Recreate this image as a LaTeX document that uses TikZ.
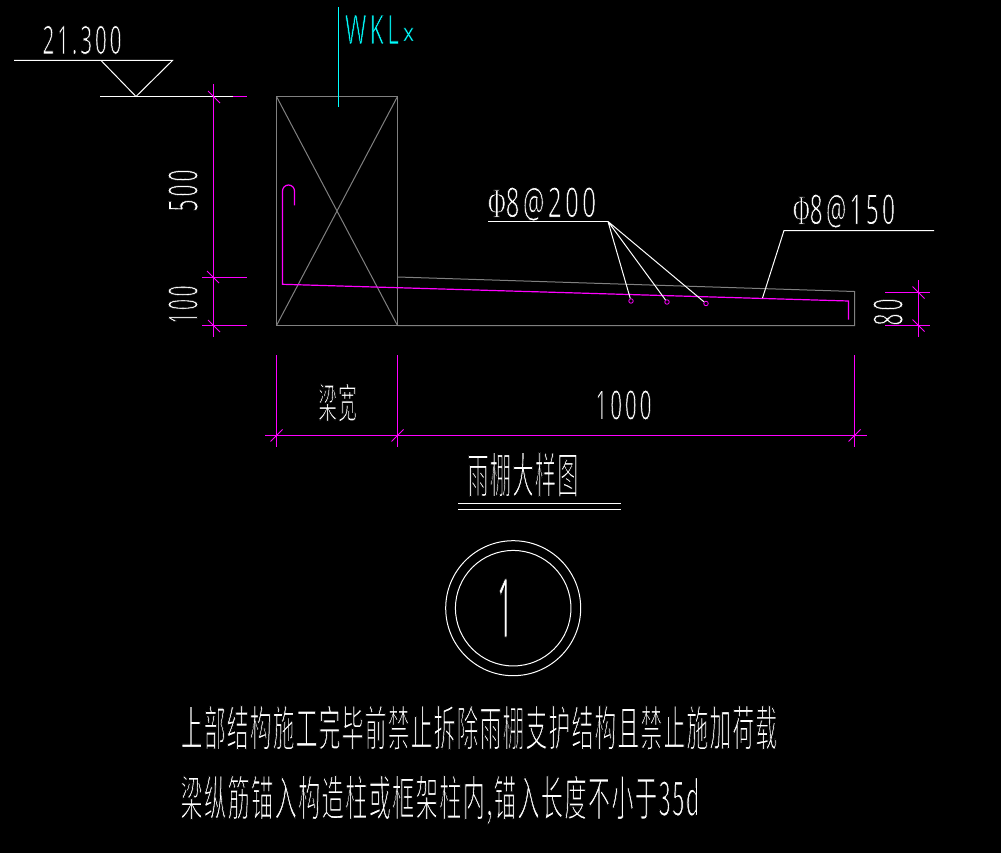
\documentclass[tikz,border=0pt]{standalone}
\usepackage{graphicx}
\usepackage{fontspec}
\setmainfont[LetterSpace=14]{Open Sans}
\newfontfamily\cjk[LetterSpace=6]{Noto Sans CJK SC}
\newfontfamily\serifphi{Liberation Serif}
\definecolor{cadmag}{HTML}{FF00FF}
\definecolor{cadcyan}{HTML}{00FFFF}
\definecolor{cadgray}{HTML}{808080}
% thin text: the glyph is filled, then its edge is stroked in the background colour
\newcommand{\thinon}[1]{\special{pdf:code 2 Tr 0 0 0 RG #1 w}}
\newcommand{\thinoff}{\special{pdf:code 0 Tr}}
\newcommand{\fitw}[4]{\resizebox*{#1pt}{#2pt}{\thinon{#3}#4\thinoff}}
\tikzset{
  x=1pt,y=-1pt,
  lbl/.style={inner sep=0pt,outer sep=0pt,text=white},
  cyanlbl/.style={inner sep=0pt,outer sep=0pt,text=cadcyan},
  wline/.style={draw=white,line width=1pt},
  gline/.style={draw=cadgray,line width=1pt},
  mline/.style={draw=cadmag,line width=1pt},
  rebar/.style={draw=cadmag,line width=1.2pt},
  cline/.style={draw=cadcyan,line width=1pt},
  ring/.style={circle,draw=cadmag,line width=.8pt,inner sep=0pt,minimum size=4.5pt},
}
\begin{document}
\begin{tikzpicture}
\useasboundingbox (0,0) rectangle (1001,853);
\fill[black] (0,0) rectangle (1001,853);
% elevation mark
\draw[wline] (14,60.5) -- (172.5,60.5) -- (136,96.5) -- (101,60.5);
\draw[wline] (100,96.5) -- (233,96.5);
\draw[mline] (233,96.5) -- (247,96.5);
\node[lbl] (elev) at (82,40) {\fitw{79}{29}{.2}{21.300}};
% beam
\coordinate (bTL) at (276.5,96.5); \coordinate (bTR) at (397.5,96.5);
\coordinate (bBL) at (276.5,325.5); \coordinate (bBR) at (397.5,325.5);
\draw[gline] (bTL) rectangle (bBR);
\draw[gline] (bTL) -- (bBR) (bTR) -- (bBL);
% slab
\draw[gline] (397.5,277) -- (854.5,291.5) -- (854.5,325.5) -- (bBR);
% rebar
\draw[rebar] (294.5,205.5) -- (294.5,191) arc[start angle=0,end angle=-180,radius=6] -- (282.5,284.3) -- (848.5,301) -- (848.5,319.5);
% WKL leader
\draw[cline] (338.5,7) -- (338.5,107);
\node[cyanlbl] (wkl) at (372,29.5) {\fitw{54}{29}{.2}{WKL}};
\node[cyanlbl] (wklx) at (408.5,34.5) {\fitw{11}{13}{.06}{x}};
% left dimension
\draw[mline] (213.5,84) -- (213.5,337);
\draw[mline] (202,277.5) -- (247,277.5) (202,325.5) -- (247,325.5);
\draw[mline] (208,91) -- (220,103) (207,271) -- (219,283) (208,320) -- (220,332);
\node[lbl,rotate=90] (d500) at (183,190.5) {\fitw{42}{30}{.2}{500}};
\node[lbl,rotate=90] (d100) at (183,304.5) {\fitw{38}{30}{.2}{100}};
% right dimension
\draw[mline] (918.5,280) -- (918.5,337);
\draw[mline] (885,292.5) -- (930,292.5) (885,325.5) -- (930,325.5);
\draw[mline] (912.5,286.5) -- (924.5,298.5) (912.5,319.5) -- (924.5,331.5);
\node[lbl,rotate=90] (d80) at (888,312) {\fitw{27}{30}{.2}{80}};
% bottom dimension
\draw[mline] (265,435.5) -- (867,435.5);
\draw[mline] (276.5,355) -- (276.5,446.7) (397.5,355) -- (397.5,446.7) (854.5,355) -- (854.5,446.7);
\draw[mline] (270.5,441.5) -- (282.5,429.5) (391.5,441.5) -- (403.5,429.5) (848.5,441.5) -- (860.5,429.5);
\node[lbl] (lk) at (337.5,402.5) {\fitw{38.5}{39}{.28}{\cjk 梁宽}};
\node[lbl] (d1000) at (623.5,405) {\fitw{56}{30}{.2}{1000}};
% rebar labels
\node[lbl] (t200) at (542,204) {\fitw{108}{34}{.2}{{\serifphi Φ}8@200}};
\node[lbl] (t150) at (844,211) {\fitw{102}{34}{.2}{{\serifphi Φ}8@150}};
\coordinate (hubA) at (608,221.5); \coordinate (hubB) at (488,221.5);
\coordinate (hubC) at (784,230.5); \coordinate (hubD) at (934,230.5);
\node[ring] (r1) at (631,301) {};
\node[ring] (r2) at (667,302) {};
\node[ring] (r3) at (706,303.5) {};
\coordinate (tip) at (762.5,298);
\draw[wline] (hubB) -- (hubA);
\draw[wline] (hubA) -- (r1) (hubA) -- (r2) (hubA) -- (r3);
\draw[wline] (hubD) -- (hubC) -- (tip);
% title
\node[lbl] (title) at (523,474.5) {\fitw{111}{45}{.28}{\cjk 雨棚大样图}};
\draw[wline] (458,503.5) -- (621,503.5) (458,509.5) -- (621,509.5);
\node[circle,draw=white,line width=1pt,minimum size=135pt,inner sep=0pt] (c1) at (513.2,608.2) {};
\node[circle,draw=white,line width=1pt,minimum size=115.5pt,inner sep=0pt] (c2) at (513.2,608.2) {};
\node[lbl] (one) at (505,608) {\fitw{16}{58}{.1}{1}};
% notes
\node[lbl] (n1) at (479,727.5) {\fitw{596}{45}{.28}{\cjk 上部结构施工完毕前禁止拆除雨棚支护结构且禁止施加荷载}};
\node[lbl] (n2) at (440,800) {\fitw{519}{50}{.28}{\cjk 梁纵筋锚入构造柱或框架柱内,锚入长度不小于35d}};
\end{tikzpicture}
\end{document}
